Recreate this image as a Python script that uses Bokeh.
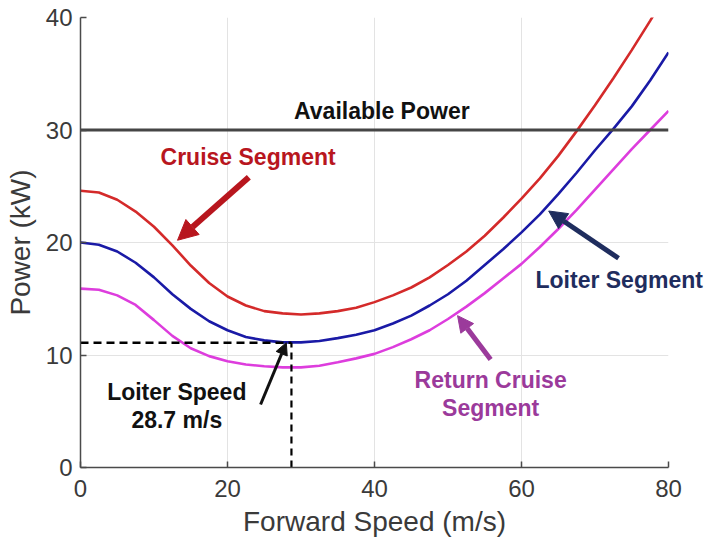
from bokeh.plotting import figure
from bokeh.models import Range1d, FixedTicker, Label, Arrow, NormalHead, LinearAxis
from bokeh.embed import file_html
from bokeh.resources import INLINE

# ---- data ----
speed = [0, 2.5, 5, 7.5, 10, 12.5, 15, 17.5, 20, 22.5, 25, 27.5, 30, 32.5, 35, 37.5,
         40, 42.5, 45, 47.5, 50, 52.5, 55, 57.5, 60, 62.5, 65, 67.5, 70, 72.5, 75, 77.5, 80]

cruise_power = [24.6, 24.45, 23.8, 22.75, 21.4, 19.75, 17.95, 16.4, 15.2, 14.4, 13.9, 13.7, 13.6,
                13.7, 13.9, 14.2, 14.7, 15.3, 16.0, 16.9, 18.0, 19.2, 20.6, 22.2, 23.9, 25.7,
                27.7, 29.9, 32.2, 34.6, 37.1, 39.7, 42.4]

loiter_power = [20.0, 19.8, 19.2, 18.2, 16.9, 15.4, 14.1, 13.0, 12.2, 11.6, 11.3, 11.12, 11.12,
                11.25, 11.5, 11.8, 12.2, 12.8, 13.5, 14.4, 15.4, 16.6, 18.0, 19.4, 20.9, 22.5,
                24.3, 26.2, 28.2, 30.1, 32.1, 34.4, 36.9]

return_power = [15.9, 15.8, 15.3, 14.45, 13.1, 11.7, 10.6, 9.9, 9.45, 9.15, 9.0, 8.9, 8.9,
                9.05, 9.35, 9.7, 10.1, 10.7, 11.4, 12.2, 13.2, 14.3, 15.5, 16.8, 18.1, 19.6,
                21.2, 22.9, 24.7, 26.5, 28.3, 30.0, 31.7]

available_power = 30
loiter_speed = 28.7
loiter_min_power = 11.1

x_ticks = [0, 20, 40, 60, 80]
y_ticks = [0, 10, 20, 30, 40]

FONT = "Liberation Sans"

p = figure(width=705, height=544, output_backend="svg", toolbar_location=None,
           x_range=Range1d(0, 80), y_range=Range1d(0, 40),
           min_border_left=80, min_border_right=37, min_border_top=17, min_border_bottom=77)

p.outline_line_color = None
p.background_fill_color = "white"
p.border_fill_color = "white"

for ax in (p.xaxis[0], p.yaxis[0]):
    ax.axis_line_color = "#4a4a4a"
    ax.axis_line_width = 1.5
    ax.major_tick_in = 6
    ax.major_tick_out = 0
    ax.major_tick_line_color = "#4a4a4a"
    ax.major_tick_line_width = 1.5
    ax.minor_tick_line_color = None
    ax.major_label_text_font = FONT
    ax.major_label_text_font_size = "24px"
    ax.major_label_text_color = "#3a3a3a"
    ax.axis_label_text_font = FONT
    ax.axis_label_text_font_size = "28px"
    ax.axis_label_text_font_style = "normal"
    ax.axis_label_text_color = "#3a3a3a"

p.xaxis.ticker = FixedTicker(ticks=x_ticks)
p.yaxis.ticker = FixedTicker(ticks=y_ticks)
p.xaxis.axis_label = "Forward Speed (m/s)"
p.yaxis.axis_label = "Power (kW)"
p.xaxis.major_label_standoff = 12
p.xaxis.axis_label_standoff = 6
p.yaxis.major_label_standoff = 8
p.yaxis.axis_label_standoff = 7

p.grid.grid_line_color = "#e3e3e3"
p.grid.grid_line_width = 1

# curves
p.line(speed, cruise_power, line_color="#d42a2a", line_width=2.6)
p.line(speed, loiter_power, line_color="#1a1aa6", line_width=2.6)
p.line(speed, return_power, line_color="#dd3ddd", line_width=2.6)

# available power
p.line([speed[0], speed[-1]], [available_power, available_power], line_color="#454545", line_width=3)

# loiter speed dashed markers
p.line([0, loiter_speed], [loiter_min_power, loiter_min_power], line_color="black",
       line_width=2.5, line_dash="8 5")
p.line([loiter_speed, loiter_speed], [0, loiter_min_power], line_color="black",
       line_width=2.2, line_dash="7 5")

def label(x, y, text, color):
    p.add_layout(Label(x=x, y=y, text=text, text_font=FONT, text_font_size="23px",
                       text_font_style="bold", text_color=color, text_align="center",
                       text_baseline="middle"))

label(41.0, 31.7, "Available Power", "#111111")
label(22.8, 27.6, "Cruise Segment", "#b8161e")
label(55.8, 7.8, "Return Cruise", "#9b3a9b")
label(55.8, 5.3, "Segment", "#9b3a9b")
label(13.1, 6.7, "Loiter Speed", "#111111")
label(13.1, 4.2, "28.7 m/s", "#111111")

# "Loiter Segment" overhangs the right edge of the axes box, so it is drawn by an
# unlined right-hand axis (not clipped to the frame)
loiter_note_y = 16.7
note_axis = LinearAxis(ticker=FixedTicker(ticks=[loiter_note_y]),
                       major_label_overrides={loiter_note_y: "Loiter Segment"},
                       axis_line_color=None, major_tick_line_color=None,
                       minor_tick_line_color=None, major_tick_in=0, major_tick_out=0,
                       major_label_standoff=-133, major_label_text_font=FONT,
                       major_label_text_font_size="23px", major_label_text_font_style="bold",
                       major_label_text_color="#1f2d5e")
p.add_layout(note_axis, "right")

def arrow(xs, ys, xe, ye, color, width, size):
    p.add_layout(Arrow(x_start=xs, y_start=ys, x_end=xe, y_end=ye, line_color=color,
                       line_width=width,
                       end=NormalHead(size=size, fill_color=color, line_color=color, line_width=1)))

arrow(22.9, 25.8, 13.2, 20.2, "#b8161e", 6, 20)
arrow(73.2, 18.6, 63.7, 22.8, "#1f2d5e", 5, 18)
arrow(55.8, 9.6, 51.3, 13.5, "#9b3a9b", 5, 16)
arrow(24.5, 5.6, 28.0, 11.1, "#111111", 3, 12)

open("out.html", "w").write(file_html(p, INLINE))
